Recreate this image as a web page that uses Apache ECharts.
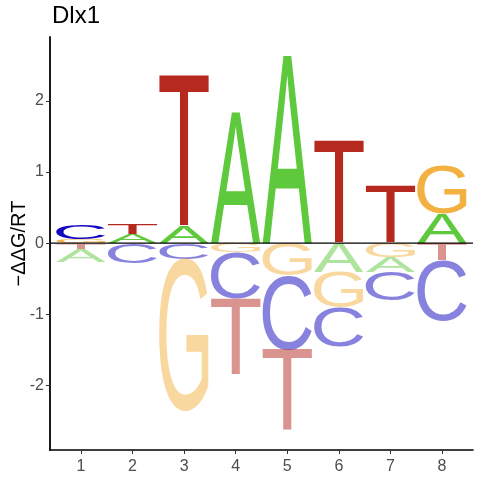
<!DOCTYPE html>
<html>
<head>
<meta charset="utf-8">
<script src="https://cdn.jsdelivr.net/npm/echarts@6/dist/echarts.min.js"></script>
<style>
html,body{margin:0;padding:0;background:#fff;}
#chart{width:480px;height:480px;}
</style>
</head>
<body>
<div id="chart"></div>
<script>
// positions of the motif
var positions = [1, 2, 3, 4, 5, 6, 7, 8];
var bases = ['A', 'C', 'G', 'T'];
// -ddG/RT per base and position
var scoreA = [-0.18, 0.12, 0.23, 1.84, 2.64, -0.41, -0.21, 0.42];
var scoreC = [0.20, -0.28, -0.22, -0.65, -1.04, -0.55, -0.40, -0.86];
var scoreG = [0.06, 0.00, -2.15, -0.13, -0.46, -0.49, -0.20, 0.68];
var scoreT = [-0.08, 0.15, 2.14, -1.07, -1.15, 1.44, 0.81, -0.24];
var yTicks = [-2, -1, 0, 1, 2];

var colors = {A: '#5ec93c', C: '#1206c0', G: '#f3b141', T: '#b5291f'};
var fadeColors = {A: 'rgba(94,201,60,0.5)', C: 'rgba(18,6,192,0.5)', G: 'rgba(243,177,65,0.5)', T: 'rgba(181,41,31,0.5)'};
var fontFamily = 'Liberation Sans';
var letterWidth = 0.96;
var xMin = 0.4, xMax = 8.6;

// tight glyph boxes, measured with the same baseline that zrender uses (middle)
var glyph = {};
(function(){
	var cv = document.createElement('canvas');
	var ctx = cv.getContext('2d');
	ctx.font = '100px "' + fontFamily + '"';
	ctx.textBaseline = 'middle';
	ctx.textAlign = 'left';
	bases.forEach(function(b){
		var m = ctx.measureText(b);
		glyph[b] = {
			left: -m.actualBoundingBoxLeft,
			right: m.actualBoundingBoxRight,
			top: -m.actualBoundingBoxAscent,
			bottom: m.actualBoundingBoxDescent
		};
	});
})();

// stack letters: smallest nearest to zero
var stacks = [];
var scores = [scoreA, scoreC, scoreG, scoreT];
positions.forEach(function(p, i){
	var items = bases.map(function(b, k){ return {k: k, v: scores[k][i]}; });
	var pos = items.filter(function(d){ return d.v > 0; }).sort(function(a, b){ return a.v - b.v; });
	var neg = items.filter(function(d){ return d.v < 0; }).sort(function(a, b){ return b.v - a.v; });
	var acc = 0;
	pos.forEach(function(d){ stacks.push([p, acc, acc + d.v, d.k, 1]); acc += d.v; });
	acc = 0;
	neg.forEach(function(d){ stacks.push([p, acc, acc + d.v, d.k, -1]); acc += d.v; });
});

function renderLetter(params, api){
	var x = api.value(0), y0 = api.value(1), y1 = api.value(2);
	var b = bases[api.value(3)];
	var fill = api.value(4) > 0 ? colors[b] : fadeColors[b];
	var p0 = api.coord([x - letterWidth / 2, Math.max(y0, y1)]);
	var p1 = api.coord([x + letterWidth / 2, Math.min(y0, y1)]);
	var w = p1[0] - p0[0], h = p1[1] - p0[1];
	if (h < 0.3) return;
	var g = glyph[b];
	var sx = w / (g.right - g.left), sy = h / (g.bottom - g.top);
	return {
		type: 'text',
		silent: true,
		x: p0[0] - g.left * sx,
		y: p0[1] - g.top * sy,
		scaleX: sx,
		scaleY: sy,
		style: {
			text: b,
			fontSize: 100,
			fontFamily: fontFamily,
			fill: fill,
			align: 'left',
			verticalAlign: 'middle'
		}
	};
}

var myChart = echarts.init(document.getElementById('chart'));
var option = {
	animation: false,
	backgroundColor: '#fff',
	textStyle: {fontFamily: fontFamily},
	title: {
		text: 'Dlx1',
		left: 52,
		top: 4,
		padding: 0,
		textStyle: {fontSize: 24, fontWeight: 'normal', color: '#000', fontFamily: fontFamily}
	},
	grid: {left: 50, right: 7, top: 37, bottom: 30, outerBoundsMode: 'none', containLabel: false},
	xAxis: {
		type: 'value',
		min: xMin,
		max: xMax,
		splitLine: {show: false},
		axisLine: {onZero: false, lineStyle: {color: '#000', width: 1.6}},
		axisTick: {customValues: positions, length: 4, lineStyle: {color: '#333', width: 1}},
		axisLabel: {customValues: positions, color: '#4d4d4d', fontSize: 16, margin: 9}
	},
	yAxis: {
		type: 'value',
		min: -2.91,
		max: 2.9,
		name: '\u2212\u0394\u0394G/RT',
		nameLocation: 'middle',
		nameRotate: 90,
		nameGap: 21,
		nameMoveOverlap: false,
		nameTextStyle: {fontSize: 20, color: '#000', fontFamily: fontFamily},
		splitLine: {show: false},
		axisLine: {show: true, onZero: false, lineStyle: {color: '#000', width: 1.8}},
		axisTick: {show: true, customValues: yTicks, length: 4, lineStyle: {color: '#333', width: 1}},
		axisLabel: {customValues: yTicks, color: '#4d4d4d', fontSize: 16, margin: 6}
	},
	series: [
		{
			type: 'custom',
			name: 'logo',
			renderItem: renderLetter,
			encode: {x: 0, y: [1, 2]},
			data: stacks,
			z: 2
		},
		{
			type: 'line',
			name: 'zero',
			data: [[xMin, 0], [xMax, 0]],
			symbol: 'none',
			silent: true,
			lineStyle: {color: '#000', width: 1.4},
			z: 5
		}
	]
};
myChart.setOption(option);
</script>
</body>
</html>
